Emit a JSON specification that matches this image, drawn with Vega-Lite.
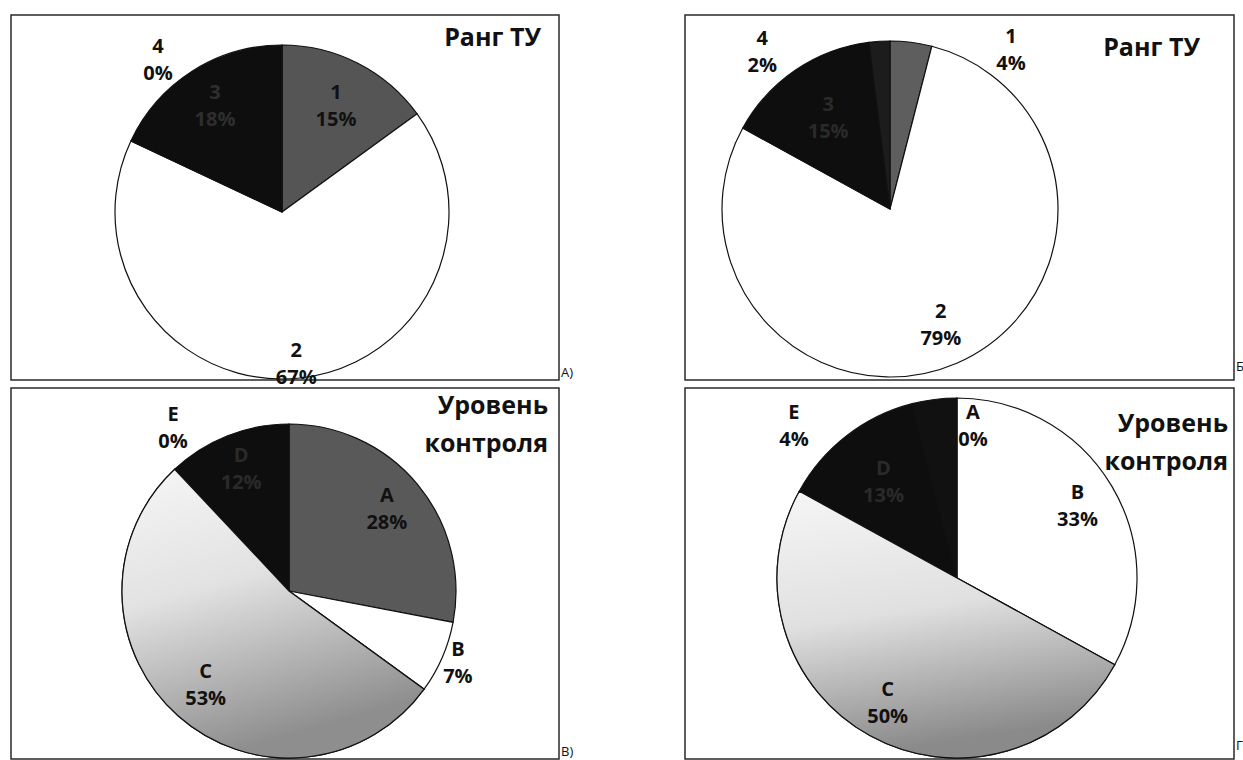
{
  "$schema": "https://vega.github.io/schema/vega-lite/v6.json",
  "background": "white",
  "padding": {"left": 10, "top": 14, "right": 0, "bottom": 0},
  "columns": 2,
  "bounds": "flush",
  "spacing": {"row": 8, "column": 126},
  "resolve": {"scale": {"color": "independent", "theta": "independent"}},
  "config": {
    "view": {"stroke": "#2a2a2a", "strokeWidth": 1.5},
    "font": "Open Sans",
    "text": {"font": "Open Sans", "fontWeight": "bold", "fontSize": 20, "lineHeight": 27, "fill": "#111", "align": "center", "baseline": "middle"},
    "title": {"font": "Open Sans", "fontWeight": "bold", "fontSize": 25, "color": "#111", "anchor": "end", "lineHeight": 38, "frame": "group"}
  },
  "concat": [
    {
      "width": 548, "height": 365,
      "view": {"stroke": "#2a2a2a", "strokeWidth": 1.5},
      "title": {"text": "Ранг ТУ", "offset": -36, "dx": -18},
      "data": {"values": [
        {"cat": "1", "v": 0.15, "lbl": ["1", "15%"]},
        {"cat": "2", "v": 0.67, "lbl": ["2", "67%"]},
        {"cat": "3", "v": 0.18, "lbl": ["3", "18%"]},
        {"cat": "4", "v": 0.0, "lbl": ["4", "0%"]}
      ]},
      "layer": [
        {"mark": {"type": "arc", "radius": 167, "x": 271, "y": 197, "stroke": "#111", "strokeWidth": 1.2},
         "encoding": {"theta": {"field": "v", "type": "quantitative", "stack": true}, "order": {"field": "cat"},
           "color": {"field": "cat", "type": "nominal", "legend": null, "scale": {"domain": ["1", "2", "3", "4"], "range": ["#555555", "#ffffff", "#0e0e0e", "#1c1c1c"]}}}},
        {"mark": {"type": "text", "radius": 119, "x": 271, "y": 197, "dy": -13},
         "encoding": {"theta": {"field": "v", "type": "quantitative", "stack": true}, "order": {"field": "cat"},
           "text": {"condition": {"test": "datum.cat === '1'", "field": "lbl", "type": "nominal"}, "value": ""}}},
        {"mark": {"type": "text", "radius": 152, "x": 271, "y": 197, "dy": -12},
         "encoding": {"theta": {"field": "v", "type": "quantitative", "stack": true}, "order": {"field": "cat"},
           "text": {"condition": {"test": "datum.cat === '2'", "field": "lbl", "type": "nominal"}, "value": ""}}},
        {"mark": {"type": "text", "radius": 125, "x": 271, "y": 197, "dy": -13, "fill": "#2e2e2e"},
         "encoding": {"theta": {"field": "v", "type": "quantitative", "stack": true}, "order": {"field": "cat"},
           "text": {"condition": {"test": "datum.cat === '3'", "field": "lbl", "type": "nominal"}, "value": ""}}},
        {"mark": {"type": "text", "radius": 151, "x": 271, "y": 197, "dx": -124, "dy": -14},
         "encoding": {"theta": {"field": "v", "type": "quantitative", "stack": true}, "order": {"field": "cat"},
           "text": {"condition": {"test": "datum.cat === '4'", "field": "lbl", "type": "nominal"}, "value": ""}}},
        {"data": {"values": [{"tag": "А)"}]},
         "mark": {"type": "text", "x": "width", "y": "height", "dx": 2, "align": "left", "baseline": "bottom", "fontSize": 13, "fontWeight": "normal"},
         "encoding": {"text": {"field": "tag", "type": "nominal"}}}
      ]
    },
    {
      "width": 549, "height": 365,
      "view": {"stroke": "#2a2a2a", "strokeWidth": 1.5},
      "title": {"text": "Ранг ТУ", "offset": -46, "dx": -34},
      "data": {"values": [
        {"cat": "1", "v": 0.04, "lbl": ["1", "4%"]},
        {"cat": "2", "v": 0.79, "lbl": ["2", "79%"]},
        {"cat": "3", "v": 0.15, "lbl": ["3", "15%"]},
        {"cat": "4", "v": 0.02, "lbl": ["4", "2%"]}
      ]},
      "layer": [
        {"mark": {"type": "arc", "radius": 168, "x": 205, "y": 194, "stroke": "#111", "strokeWidth": 1.2},
         "encoding": {"theta": {"field": "v", "type": "quantitative", "stack": true}, "order": {"field": "cat"},
           "color": {"field": "cat", "type": "nominal", "legend": null, "scale": {"domain": ["1", "2", "3", "4"], "range": ["#5e5e5e", "#ffffff", "#0e0e0e", "#1c1c1c"]}}}},
        {"mark": {"type": "text", "radius": 159, "x": 205, "y": 194, "dx": 101, "dy": -14},
         "encoding": {"theta": {"field": "v", "type": "quantitative", "stack": true}, "order": {"field": "cat"},
           "text": {"condition": {"test": "datum.cat === '1'", "field": "lbl", "type": "nominal"}, "value": ""}}},
        {"mark": {"type": "text", "radius": 128, "x": 205, "y": 194, "dy": -14},
         "encoding": {"theta": {"field": "v", "type": "quantitative", "stack": true}, "order": {"field": "cat"},
           "text": {"condition": {"test": "datum.cat === '2'", "field": "lbl", "type": "nominal"}, "value": ""}}},
        {"mark": {"type": "text", "radius": 110, "x": 205, "y": 194, "dy": -13, "fill": "#2a2a2a"},
         "encoding": {"theta": {"field": "v", "type": "quantitative", "stack": true}, "order": {"field": "cat"},
           "text": {"condition": {"test": "datum.cat === '3'", "field": "lbl", "type": "nominal"}, "value": ""}}},
        {"mark": {"type": "text", "radius": 156, "x": 205, "y": 194, "dx": -118, "dy": -14},
         "encoding": {"theta": {"field": "v", "type": "quantitative", "stack": true}, "order": {"field": "cat"},
           "text": {"condition": {"test": "datum.cat === '4'", "field": "lbl", "type": "nominal"}, "value": ""}}},
        {"data": {"values": [{"tag": "Б"}]},
         "mark": {"type": "text", "x": "width", "y": "height", "dx": 2, "dy": -6, "align": "left", "baseline": "bottom", "fontSize": 13, "fontWeight": "normal"},
         "encoding": {"text": {"field": "tag", "type": "nominal"}}}
      ]
    },
    {
      "width": 548, "height": 371,
      "view": {"stroke": "#2a2a2a", "strokeWidth": 1.5},
      "title": {"text": ["Уровень", "контроля"], "offset": -74, "dx": -11},
      "data": {"values": [
        {"cat": "A", "v": 0.28, "lbl": ["A", "28%"]},
        {"cat": "B", "v": 0.07, "lbl": ["B", "7%"]},
        {"cat": "C", "v": 0.53, "lbl": ["C", "53%"]},
        {"cat": "D", "v": 0.12, "lbl": ["D", "12%"]},
        {"cat": "E", "v": 0.0, "lbl": ["E", "0%"]}
      ]},
      "layer": [
        {"mark": {"type": "arc", "radius": 167, "x": 278, "y": 203, "stroke": "#111", "strokeWidth": 1.2},
         "encoding": {"theta": {"field": "v", "type": "quantitative", "stack": true}, "order": {"field": "cat"},
           "color": {"field": "cat", "type": "nominal", "legend": null, "scale": {"domain": ["A", "B", "C", "D", "E"], "range": ["#595959", "#ffffff", "#d0d0d0", "#0e0e0e", "#1c1c1c"]}}}},
        {"mark": {"type": "arc", "radius": 167, "x": 278, "y": 203, "stroke": "#111", "strokeWidth": 1.2,
           "fill": {"gradient": "linear", "x1": 0, "y1": 0, "x2": 0.3, "y2": 1, "stops": [{"offset": 0, "color": "#f6f6f6"}, {"offset": 0.45, "color": "#e2e2e2"}, {"offset": 1, "color": "#8e8e8e"}]}},
         "encoding": {"theta": {"field": "v", "type": "quantitative", "stack": true}, "order": {"field": "cat"},
           "opacity": {"condition": {"test": "datum.cat === 'C'", "value": 1}, "value": 0}}},
        {"mark": {"type": "text", "radius": 127, "x": 278, "y": 203, "dy": -14},
         "encoding": {"theta": {"field": "v", "type": "quantitative", "stack": true}, "order": {"field": "cat"},
           "text": {"condition": {"test": "datum.cat === 'A'", "field": "lbl", "type": "nominal"}, "value": ""}}},
        {"mark": {"type": "text", "radius": 184, "x": 278, "y": 203, "dy": -14},
         "encoding": {"theta": {"field": "v", "type": "quantitative", "stack": true}, "order": {"field": "cat"},
           "text": {"condition": {"test": "datum.cat === 'B'", "field": "lbl", "type": "nominal"}, "value": ""}}},
        {"mark": {"type": "text", "radius": 126, "x": 278, "y": 203, "dy": -14},
         "encoding": {"theta": {"field": "v", "type": "quantitative", "stack": true}, "order": {"field": "cat"},
           "text": {"condition": {"test": "datum.cat === 'C'", "field": "lbl", "type": "nominal"}, "value": ""}}},
        {"mark": {"type": "text", "radius": 130, "x": 278, "y": 203, "dy": -14, "fill": "#2a2a2a"},
         "encoding": {"theta": {"field": "v", "type": "quantitative", "stack": true}, "order": {"field": "cat"},
           "text": {"condition": {"test": "datum.cat === 'D'", "field": "lbl", "type": "nominal"}, "value": ""}}},
        {"mark": {"type": "text", "radius": 162, "x": 278, "y": 203, "dx": -116, "dy": -14},
         "encoding": {"theta": {"field": "v", "type": "quantitative", "stack": true}, "order": {"field": "cat"},
           "text": {"condition": {"test": "datum.cat === 'E'", "field": "lbl", "type": "nominal"}, "value": ""}}},
        {"data": {"values": [{"tag": "В)"}]},
         "mark": {"type": "text", "x": "width", "y": "height", "dx": 2, "align": "left", "baseline": "bottom", "fontSize": 13, "fontWeight": "normal"},
         "encoding": {"text": {"field": "tag", "type": "nominal"}}}
      ]
    },
    {
      "width": 549, "height": 371,
      "view": {"stroke": "#2a2a2a", "strokeWidth": 1.5},
      "title": {"text": ["Уровень", "контроля"], "offset": -87, "dx": -6},
      "data": {"values": [
        {"cat": "A", "v": 0.0, "lbl": ["A", "0%"]},
        {"cat": "B", "v": 0.33, "lbl": ["B", "33%"]},
        {"cat": "C", "v": 0.50, "lbl": ["C", "50%"]},
        {"cat": "D", "v": 0.13, "lbl": ["D", "13%"]},
        {"cat": "E", "v": 0.04, "lbl": ["E", "4%"]}
      ]},
      "layer": [
        {"mark": {"type": "arc", "radius": 180, "x": 272, "y": 190, "stroke": "#111", "strokeWidth": 1.2},
         "encoding": {"theta": {"field": "v", "type": "quantitative", "stack": true}, "order": {"field": "cat"},
           "color": {"field": "cat", "type": "nominal", "legend": null, "scale": {"domain": ["A", "B", "C", "D", "E"], "range": ["#595959", "#ffffff", "#d0d0d0", "#0e0e0e", "#111111"]}}}},
        {"mark": {"type": "arc", "radius": 180, "x": 272, "y": 190, "stroke": "#111", "strokeWidth": 1.2,
           "fill": {"gradient": "linear", "x1": 0, "y1": 0, "x2": 0.2, "y2": 1, "stops": [{"offset": 0, "color": "#f6f6f6"}, {"offset": 0.5, "color": "#e0e0e0"}, {"offset": 1, "color": "#8a8a8a"}]}},
         "encoding": {"theta": {"field": "v", "type": "quantitative", "stack": true}, "order": {"field": "cat"},
           "opacity": {"condition": {"test": "datum.cat === 'C'", "value": 1}, "value": 0}}},
        {"mark": {"type": "text", "radius": 151, "x": 272, "y": 190, "dx": 16, "dy": -14},
         "encoding": {"theta": {"field": "v", "type": "quantitative", "stack": true}, "order": {"field": "cat"},
           "text": {"condition": {"test": "datum.cat === 'A'", "field": "lbl", "type": "nominal"}, "value": ""}}},
        {"mark": {"type": "text", "radius": 140, "x": 272, "y": 190, "dy": -14},
         "encoding": {"theta": {"field": "v", "type": "quantitative", "stack": true}, "order": {"field": "cat"},
           "text": {"condition": {"test": "datum.cat === 'B'", "field": "lbl", "type": "nominal"}, "value": ""}}},
        {"mark": {"type": "text", "radius": 144, "x": 272, "y": 190, "dy": -14},
         "encoding": {"theta": {"field": "v", "type": "quantitative", "stack": true}, "order": {"field": "cat"},
           "text": {"condition": {"test": "datum.cat === 'C'", "field": "lbl", "type": "nominal"}, "value": ""}}},
        {"mark": {"type": "text", "radius": 120, "x": 272, "y": 190, "dy": -14, "fill": "#2a2a2a"},
         "encoding": {"theta": {"field": "v", "type": "quantitative", "stack": true}, "order": {"field": "cat"},
           "text": {"condition": {"test": "datum.cat === 'D'", "field": "lbl", "type": "nominal"}, "value": ""}}},
        {"mark": {"type": "text", "radius": 152, "x": 272, "y": 190, "dx": -144, "dy": -14},
         "encoding": {"theta": {"field": "v", "type": "quantitative", "stack": true}, "order": {"field": "cat"},
           "text": {"condition": {"test": "datum.cat === 'E'", "field": "lbl", "type": "nominal"}, "value": ""}}},
        {"data": {"values": [{"tag": "Г"}]},
         "mark": {"type": "text", "x": "width", "y": "height", "dx": 2, "dy": -6, "align": "left", "baseline": "bottom", "fontSize": 13, "fontWeight": "normal"},
         "encoding": {"text": {"field": "tag", "type": "nominal"}}}
      ]
    }
  ]
}
